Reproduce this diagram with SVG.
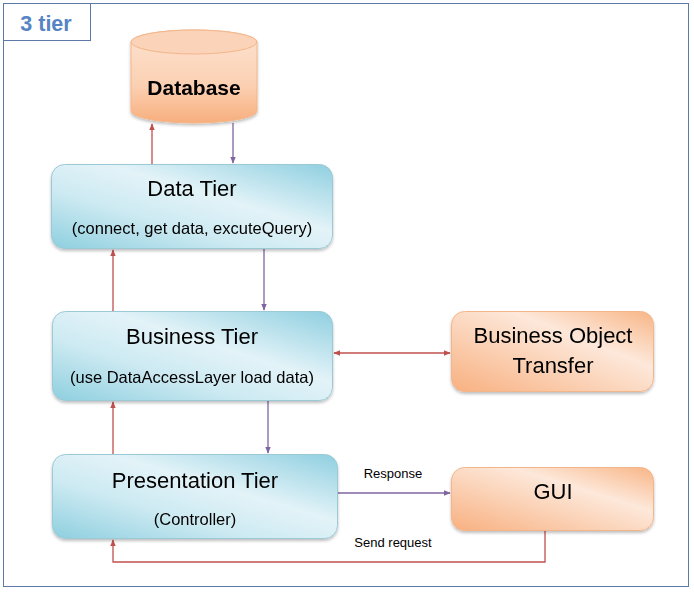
<svg xmlns="http://www.w3.org/2000/svg" width="694" height="592" viewBox="0 0 694 592">
<style>
text{font-family:"Liberation Sans",Arial,sans-serif;fill:#000;text-anchor:middle}
.t{font-size:22px}
.s{font-size:16.5px}
.l{font-size:13px}
.blue{fill:url(#gb);stroke:#9cc9d6;stroke-width:1}
.orange{fill:url(#go);stroke:#f3b68b;stroke-width:1}
.red{stroke:#c0504d;stroke-width:1.3;fill:none}
.pur{stroke:#8064a2;stroke-width:1.3;fill:none}
</style>
<defs>
<linearGradient id="gb" x1="0" y1="1" x2="1" y2="0">
<stop offset="0" stop-color="#8ecfdf"/>
<stop offset="0.35" stop-color="#cdeaf2"/>
<stop offset="0.6" stop-color="#e3f3f8"/>
<stop offset="1" stop-color="#8fcfe0"/>
</linearGradient>
<linearGradient id="go" x1="0" y1="1" x2="1" y2="0">
<stop offset="0" stop-color="#f8b080"/>
<stop offset="0.4" stop-color="#fbd3b8"/>
<stop offset="0.65" stop-color="#fde8da"/>
<stop offset="1" stop-color="#f8b586"/>
</linearGradient>
<linearGradient id="gdb" x1="0" y1="0" x2="0" y2="1">
<stop offset="0" stop-color="#fde3d1"/>
<stop offset="0.6" stop-color="#fbd0b2"/>
<stop offset="1" stop-color="#f7ae7d"/>
</linearGradient>
<filter id="sh" x="-10%" y="-10%" width="120%" height="130%">
<feDropShadow dx="0" dy="2" stdDeviation="1.5" flood-color="#000" flood-opacity="0.25"/>
</filter>
<marker id="ar" viewBox="0 0 10 10" refX="9" refY="5" markerWidth="7" markerHeight="7" orient="auto-start-reverse" markerUnits="userSpaceOnUse">
<path d="M0,1 L10,5 L0,9 z" fill="#c0504d"/>
</marker>
<marker id="ap" viewBox="0 0 10 10" refX="9" refY="5" markerWidth="7" markerHeight="7" orient="auto-start-reverse" markerUnits="userSpaceOnUse">
<path d="M0,1 L10,5 L0,9 z" fill="#8064a2"/>
</marker>
</defs>
<rect x="0" y="0" width="694" height="592" fill="#fff"/>
<rect x="3.5" y="3.5" width="685" height="583" fill="#fff" stroke="#5d79a8" stroke-width="1"/>
<g id="title">
<rect x="3.5" y="3.5" width="87" height="37" fill="#fff" stroke="#5d79a8" stroke-width="1"/>
<text x="46" y="31" style="font-size:21.5px;font-weight:bold;fill:#5584c4">3 tier</text>
</g>
<g id="connectors">
<line class="red" x1="152" y1="164" x2="152" y2="124" marker-end="url(#ar)"/>
<line class="pur" x1="233" y1="123" x2="233" y2="163" marker-end="url(#ap)"/>
<line class="red" x1="113" y1="311" x2="113" y2="250" marker-end="url(#ar)"/>
<line class="pur" x1="264" y1="249" x2="264" y2="310" marker-end="url(#ap)"/>
<line class="red" x1="113" y1="454" x2="113" y2="402" marker-end="url(#ar)"/>
<line class="pur" x1="268" y1="401" x2="268" y2="453" marker-end="url(#ap)"/>
<line class="red" x1="334" y1="353" x2="450" y2="353" marker-start="url(#ar)" marker-end="url(#ar)"/>
<line class="pur" x1="338" y1="493" x2="450" y2="493" marker-end="url(#ap)"/>
<polyline class="red" points="545,531 545,562 113,562 113,540" marker-end="url(#ar)"/>
<text class="l" x="393" y="478">Response</text>
<text class="l" x="393" y="547">Send request</text>
</g>
<g id="database" filter="url(#sh)">
<path d="M131,42 L131,111 A63,12 0 0 0 257,111 L257,42 A63,12 0 0 0 131,42 z" fill="url(#gdb)" stroke="#f3b68b"/>
<ellipse cx="194" cy="42" rx="63" ry="12" fill="#fbd3b8" stroke="#f3b68b"/>
<text x="194" y="95" style="font-size:21px;font-weight:bold">Database</text>
</g>
<g id="data-tier" filter="url(#sh)">
<rect class="blue" x="51.5" y="164.5" width="281" height="84" rx="13"/>
<text class="t" x="192" y="196">Data Tier</text>
<text class="s" x="192" y="234">(connect, get data, excuteQuery)</text>
</g>
<g id="business-tier" filter="url(#sh)">
<rect class="blue" x="52.5" y="311.5" width="280" height="89" rx="13"/>
<text class="t" x="192" y="344">Business Tier</text>
<text class="s" x="192" y="383">(use DataAccessLayer load data)</text>
</g>
<g id="presentation-tier" filter="url(#sh)">
<rect class="blue" x="52.5" y="454.5" width="285" height="84" rx="13"/>
<text class="t" x="195" y="488">Presentation Tier</text>
<text class="s" x="195" y="525">(Controller)</text>
</g>
<g id="business-object-transfer" filter="url(#sh)">
<rect class="orange" x="451.5" y="311.5" width="202" height="80" rx="13"/>
<text class="t" x="553" y="343">Business Object</text>
<text class="t" x="553" y="373">Transfer</text>
</g>
<g id="gui" filter="url(#sh)">
<rect class="orange" x="451.5" y="467.5" width="202" height="63" rx="13"/>
<text class="t" x="553" y="499">GUI</text>
</g>
</svg>
